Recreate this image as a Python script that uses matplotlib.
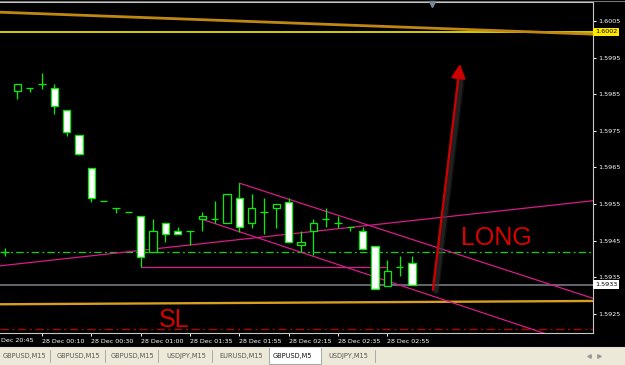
import matplotlib
matplotlib.use('Agg')
import matplotlib.pyplot as plt
import matplotlib.transforms as mtransforms
from matplotlib.patches import Rectangle
import numpy as np

# ---------------- data ----------------
bar_index = list(range(34))
opens  = [1.59419, 1.59858, 1.59866, 1.59877, 1.59866, 1.59808, 1.59739, 1.59648,
          1.59557, 1.59538, 1.59527, 1.59516, 1.59418, 1.59497, 1.59476, 1.59477,
          1.59508, 1.59508, 1.59497, 1.59567, 1.59497, 1.59527, 1.59538, 1.59556,
          1.59437, 1.59475, 1.59509, 1.59497, 1.59486, 1.59476, 1.59436, 1.59326,
          1.59377, 1.59388]
highs  = [1.59430, 1.59878, 1.59866, 1.59907, 1.59878, 1.59808, 1.59739, 1.59649,
          1.59557, 1.59538, 1.59527, 1.59516, 1.59509, 1.59497, 1.59486, 1.59477,
          1.59527, 1.59558, 1.59577, 1.59607, 1.59578, 1.59567, 1.59549, 1.59567,
          1.59476, 1.59509, 1.59538, 1.59517, 1.59486, 1.59486, 1.59436, 1.59397,
          1.59408, 1.59408]
lows   = [1.59408, 1.59836, 1.59857, 1.59864, 1.59796, 1.59737, 1.59685, 1.59556,
          1.59557, 1.59526, 1.59527, 1.59377, 1.59418, 1.59447, 1.59468, 1.59438,
          1.59476, 1.59497, 1.59497, 1.59473, 1.59485, 1.59467, 1.59485, 1.59447,
          1.59420, 1.59411, 1.59486, 1.59485, 1.59475, 1.59428, 1.59317, 1.59326,
          1.59353, 1.59330]
closes = [1.59419, 1.59878, 1.59866, 1.59877, 1.59818, 1.59746, 1.59687, 1.59567,
          1.59557, 1.59538, 1.59527, 1.59406, 1.59476, 1.59468, 1.59468, 1.59477,
          1.59516, 1.59508, 1.59577, 1.59486, 1.59538, 1.59527, 1.59549, 1.59447,
          1.59447, 1.59497, 1.59509, 1.59497, 1.59486, 1.59428, 1.59317, 1.59366,
          1.59377, 1.59330]

time_tick_bars = [3, 7, 11, 15, 19, 23, 27, 31]
time_tick_labels = ['28 Dec 00:10', '28 Dec 00:30', '28 Dec 01:00', '28 Dec 01:35',
                    '28 Dec 01:55', '28 Dec 02:15', '28 Dec 02:35', '28 Dec 02:55']
price_ticks = [1.5925, 1.5935, 1.5945, 1.5955, 1.5965, 1.5975, 1.5985, 1.5995, 1.6005]

yellow_level = 1.6002
bid_level = 1.5933
green_level = 1.59419
sl_level = 1.59208

top_ma_x = [-0.41, 47.7]
top_ma_y = [1.60074, 1.60014]
low_ma_x = [-0.41, 47.7]
low_ma_y = [1.59276, 1.59285]
rise_x = [-0.41, 47.7]
rise_y = [1.59381, 1.59559]
chan_up_x = [19, 47.7]
chan_up_y = [1.59607, 1.59292]
chan_lo_x = [16, 47.7]
chan_lo_y = [1.59508, 1.59152]
flat_x = [11, 31]
flat_y = [1.59377, 1.59377]

arrow_x = [34.7, 36.9]
arrow_y = [1.59315, 1.59933]

tabs = ['GBPUSD,M15', 'GBPUSD,M15', 'GBPUSD,M15', 'USDJPY,M15', 'EURUSD,M15',
        'GBPUSD,M5', 'USDJPY,M15']
active_tab = 5

# ---------------- figure ----------------
W, H = 625, 365
fig = plt.figure(figsize=(W / 100, H / 100), dpi=100, facecolor='black')

def fx(px):
    return px / W

def fy(py):
    return 1 - py / H

ax = fig.add_axes([0, fy(333), 593 / W, (333 - 2) / H])
ax.set_facecolor('black')
ax.set_xlim(-0.405, 47.68)
ax.set_ylim(1.591975, 1.601019)

# horizontal levels
ax.axhline(yellow_level, color='#FFEE00', lw=1.2, zorder=2)
ax.axhline(bid_level, color='#6B6F78', lw=1.3, zorder=2)
ax.axhline(green_level, color='#10D010', lw=0.9, dashes=(6, 2.5, 1.5, 2.5), zorder=2)
ax.axhline(sl_level, color='#B00000', lw=1.0, dashes=(6, 2.5, 1.5, 2.5), zorder=2)

# moving-average-like thick lines
ax.plot(top_ma_x, top_ma_y, color='#C08812', lw=2.0, zorder=2, solid_capstyle='butt')
ax.plot(low_ma_x, low_ma_y, color='#D89E1E', lw=1.7, zorder=2, solid_capstyle='butt')

# trend lines
mag = '#D81B8A'
for xs, ys in [(rise_x, rise_y), (chan_up_x, chan_up_y), (chan_lo_x, chan_lo_y),
               (flat_x, flat_y)]:
    ax.plot(xs, ys, color=mag, lw=0.9, zorder=3)

# candles
green = '#00F000'
body_w = 0.6
for i, o, h, l, c in zip(bar_index, opens, highs, lows, closes):
    ax.plot([i, i], [l, h], color=green, lw=0.9, zorder=4, solid_capstyle='butt')
    fill = 'white' if c < o else 'black'
    ax.add_patch(Rectangle((i - body_w / 2, min(o, c)), body_w, abs(c - o),
                           facecolor=fill, edgecolor=green, lw=0.9, zorder=5))

# arrow with a soft shadow on the shaft
shadow_tr = mtransforms.offset_copy(ax.transData, fig=fig, x=3, y=-1, units='dots')
for lw_s, a in [(5, 0.25), (3, 0.45)]:
    ax.plot([arrow_x[0], arrow_x[0] + 0.93 * (arrow_x[1] - arrow_x[0])],
            [arrow_y[0], arrow_y[0] + 0.93 * (arrow_y[1] - arrow_y[0])],
            color='#3a3a3a', lw=lw_s, alpha=a, transform=shadow_tr, zorder=5.5,
            solid_capstyle='round')
ax.annotate('', xy=(arrow_x[1], arrow_y[1]), xytext=(arrow_x[0], arrow_y[0]),
            arrowprops=dict(arrowstyle='-|>,head_length=0.6,head_width=0.3',
                            mutation_scale=14, color='#CC0000', lw=1.7,
                            shrinkA=0, shrinkB=0),
            zorder=6)

# texts
ax.text(37.0, 1.59438, 'LONG', color='#DD0000', fontsize=18,
        family='Liberation Sans', ha='left', va='baseline', zorder=7)
ax.text(12.5, 1.59215, 'SL', color='#DD0000', fontsize=18,
        family='Liberation Sans', ha='left', va='baseline', zorder=7)

# shift marker
ax.plot([34.62], [1.60096], marker='v', ms=4, color='#7888A0', clip_on=False, zorder=8)

# spines / axes
ax.spines['left'].set_visible(False)
for s in ['right', 'bottom', 'top']:
    ax.spines[s].set_color('#C8C8C8')
    ax.spines[s].set_linewidth(0.8)

ax.yaxis.tick_right()
ax.set_yticks(price_ticks)
ax.set_yticklabels(['%.4f' % p for p in price_ticks])
ax.tick_params(axis='y', colors='white', labelsize=4.6, length=2.5, width=0.7, pad=1.2,
               direction='out')
ax.set_xticks(time_tick_bars)
ax.set_xticklabels(time_tick_labels)
ax.tick_params(axis='x', colors='white', labelsize=4.6, length=2.5, width=0.7, pad=1.5,
               direction='out')
for lab in ax.get_xticklabels():
    lab.set_horizontalalignment('left')

# price labels on the axis
ax.text(1.0035, yellow_level, '%.4f' % yellow_level, transform=ax.get_yaxis_transform(),
        fontsize=4.6, color='black', va='center', ha='left', clip_on=False,
        bbox=dict(boxstyle='square,pad=0.25', fc='#FFE800', ec='none'))
ax.text(1.0035, bid_level, '%.4f' % bid_level, transform=ax.get_yaxis_transform(),
        fontsize=4.6, color='black', va='center', ha='left', clip_on=False,
        bbox=dict(boxstyle='square,pad=0.25', fc='white', ec='none'))

fig.text(fx(1), fy(341), 'Dec 20:45', color='white', fontsize=4.6, va='center', ha='left')

# top frame line
fig.add_artist(plt.Line2D([0, 1], [fy(0.5), fy(0.5)], color='#777777', lw=0.8))

# tab bar
fig.add_artist(Rectangle((0, 0), 1, fy(347), transform=fig.transFigure,
                         facecolor='#ECE9D8', edgecolor='none'))
fig.add_artist(plt.Line2D([0, 1], [fy(346.5), fy(346.5)], color='#DDDDDD', lw=0.8))
tab_x = [3, 57, 111, 166, 219, 273, 328]
sep_x = [50, 105, 158, 212, 375]
for tx, name, k in zip(tab_x, tabs, range(len(tabs))):
    if k == active_tab:
        fig.add_artist(Rectangle((fx(269), fy(364)), fx(321) - fx(269), fy(347) - fy(364),
                                 transform=fig.transFigure, facecolor='white',
                                 edgecolor='#9A9A9A', lw=0.6))
        col = '#111111'
    else:
        col = '#555555'
    fig.text(fx(tx), fy(356), name, color=col, fontsize=4.8, va='center', ha='left')
for sx in sep_x:
    fig.add_artist(plt.Line2D([fx(sx), fx(sx)], [fy(350), fy(362)], color='#A0A0A0', lw=0.6))
fig.add_artist(plt.Line2D([fx(589)], [fy(356)], marker='<', ms=2.5, color='#999999', lw=0))
fig.add_artist(plt.Line2D([fx(599)], [fy(356)], marker='>', ms=2.5, color='#999999', lw=0))

fig.savefig('out.png', dpi=100, facecolor='black')
